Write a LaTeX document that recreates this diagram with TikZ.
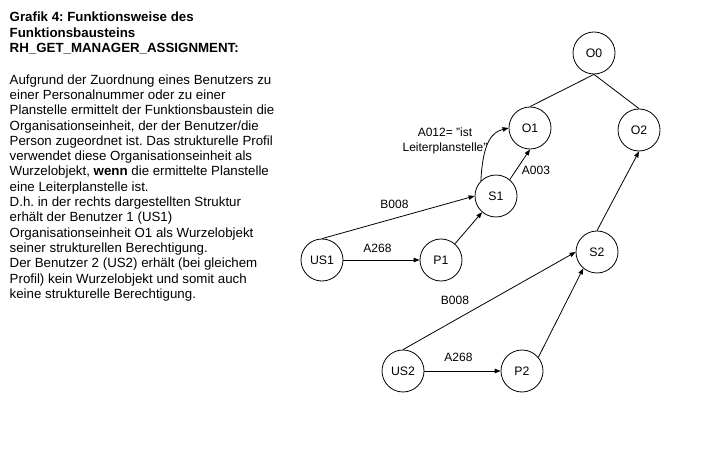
\documentclass[tikz,border=0pt]{standalone}
\usepackage{fontspec}
\setmainfont{Liberation Sans}
\usetikzlibrary{arrows.meta}
\frenchspacing
\tikzset{
  obj/.style={draw, circle, minimum size=42pt, inner sep=0pt, line width=0.8pt, font=\fontsize{12.3}{14}\selectfont},
  conn/.style={line width=0.8pt},
  arr/.style={line width=0.8pt, -{Triangle[length=6pt,width=4.5pt]}},
  lbl/.style={inner sep=0pt, font=\fontsize{12}{15}\selectfont},
  txt/.style={inner sep=0pt, align=left, anchor=base west},
}
\begin{document}
\begin{tikzpicture}[x=1pt,y=-1pt]
\useasboundingbox (0,0) rectangle (712,454);
% text (anchor at baseline of last line)
\node[txt, font=\bfseries\fontsize{13.3}{15.5}\selectfont] (title) at (9.5,52.7)
 {Grafik 4: Funktionsweise des\\Funktionsbausteins\\RH\_GET\_MANAGER\_ASSIGNMENT:};
\node[txt, font=\fontsize{13.3}{15.29}\selectfont] (body) at (9.5,298.3)
 {Aufgrund der Zuordnung eines Benutzers zu\\
  einer Personalnummer oder zu einer\\
  Planstelle ermittelt der Funktionsbaustein die\\
  Organisationseinheit, der der Benutzer/die\\
  Person zugeordnet ist. Das strukturelle Profil\\
  verwendet diese Organisationseinheit als\\
  Wurzelobjekt, \textbf{wenn} die ermittelte Planstelle\\
  eine Leiterplanstelle ist.\\
  D.h. in der rechts dargestellten Struktur\\
  erhält der Benutzer 1 (US1)\\
  Organisationseinheit O1 als Wurzelobjekt\\
  seiner strukturellen Berechtigung.\\
  Der Benutzer 2 (US2) erhält (bei gleichem\\
  Profil) kein Wurzelobjekt und somit auch\\
  keine strukturelle Berechtigung.};
% objects
\node[obj] (O0) at (594,53) {O0};
\node[obj] (O1) at (530,128) {O1};
\node[obj] (O2) at (639,130) {O2};
\node[obj] (S1) at (496,196) {S1};
\node[obj] (US1) at (322,260) {US1};
\node[obj] (P1) at (441,260) {P1};
\node[obj] (S2) at (597,252) {S2};
\node[obj] (US2) at (403,371) {US2};
\node[obj] (P2) at (522,371) {P2};
% connectors
\draw[conn] (O0.south) -- (O1.north);
\draw[conn] (O0.south) -- (O2.north);
\draw[arr] (S1.50) -- (O1.south);
\draw[arr] (S1.135) .. controls +(2,-40) and +(-16,4) .. (O1.west);
\draw[arr] (US1.north) -- (S1.west);
\draw[arr] (US1) -- (P1);
\draw[arr] (P1) -- (S1);
\draw[arr] (S2.north) -- (O2.south);
\draw[arr] (US2.north) -- (S2.west);
\draw[arr] (US2) -- (P2);
\draw[arr] (P2.40) -- (S2.230);
% labels
\node[lbl, align=center] (la012) at (445,140.5) {A012= "ist\\Leiterplanstelle"};
\node[lbl] (la003) at (536,170) {A003};
\node[lbl] (lb008a) at (394.5,204) {B008};
\node[lbl] (la268a) at (377.5,248) {A268};
\node[lbl] (lb008b) at (455,300.5) {B008};
\node[lbl] (la268b) at (458.5,357.5) {A268};
\end{tikzpicture}
\end{document}
